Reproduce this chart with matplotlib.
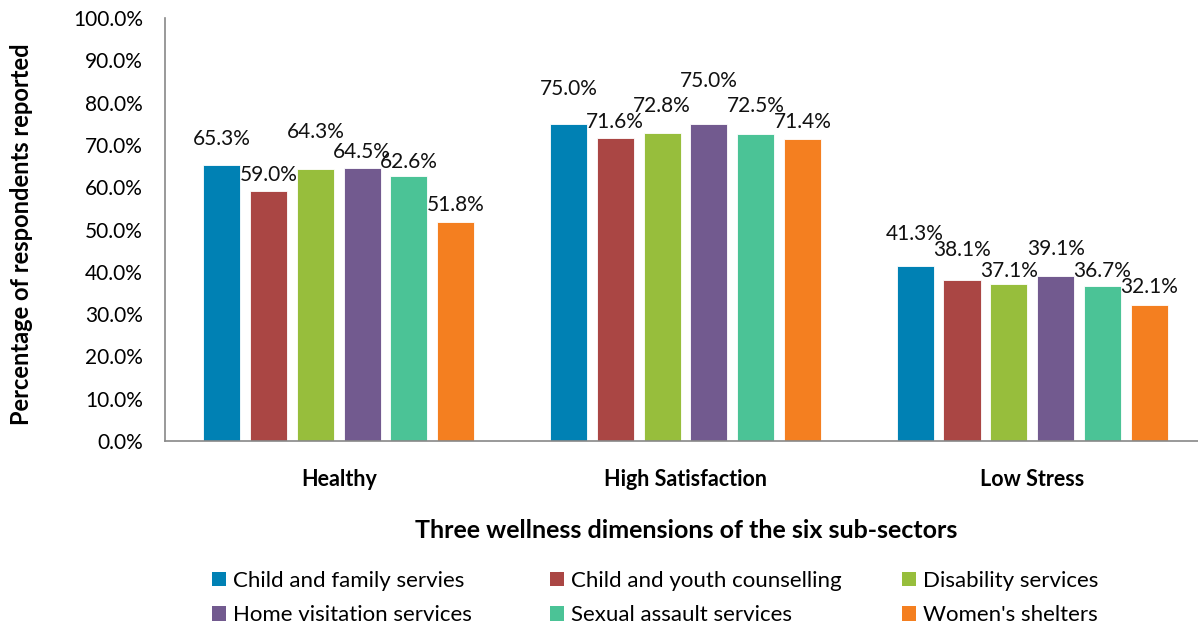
import matplotlib

matplotlib.use("Agg")
import matplotlib.pyplot as plt
import numpy as np
from matplotlib.patches import Patch

plt.rcParams["font.family"] = ["Lato", "DejaVu Sans"]

CATEGORIES = ["Healthy", "High Satisfaction", "Low Stress"]
SERIES = ["Child and family servies", "Child and youth counselling",
          "Disability services", "Home visitation services",
          "Sexual assault services", "Women's shelters"]
CHILD_FAMILY = [65.3, 75.0, 41.3]
CHILD_YOUTH = [59.0, 71.6, 38.1]
DISABILITY = [64.3, 72.8, 37.1]
HOME_VISIT = [64.5, 75.0, 39.1]
SEXUAL_ASSAULT = [62.6, 72.5, 36.7]
SHELTERS = [51.8, 71.4, 32.1]
VALUES = [CHILD_FAMILY, CHILD_YOUTH, DISABILITY, HOME_VISIT, SEXUAL_ASSAULT, SHELTERS]

COLORS = ["#0081B4", "#AA4644", "#97BE3C", "#725A8F", "#4BC396", "#F47F20"]
# label lift above each bar top, in pixels (series x category), mimics Excel's staggering
LIFT = [[26, 35, 32], [16, 16, 30], [37, 27, 13], [16, 43, 27], [14, 28, 15], [17, 17, 18]]

fig = plt.figure(figsize=(11.98, 6.28), dpi=100)
ax = fig.add_axes([165 / 1198, 1 - 441 / 628, (1198 - 165) / 1198, (441 - 18) / 628])

x = np.arange(len(CATEGORIES))
pitch, width = 0.135, 0.107
px_per_pct = 423 / 100

for i, (vals, col) in enumerate(zip(VALUES, COLORS)):
    xs = x + (i - 2.5) * pitch
    ax.bar(xs, vals, width=width, color=col, edgecolor="white", linewidth=0.6)
    for j, (xx, v) in enumerate(zip(xs, vals)):
        ax.text(xx, v + LIFT[i][j] / px_per_pct, f"{v:.1f}%", ha="center", va="center",
                fontsize=15, color="#111111")

ax.set_xlim(-0.501, 2.478)
ax.set_ylim(0, 100)
ax.set_yticks(np.arange(0, 101, 10))
ax.set_yticklabels([f"{t:.1f}%" for t in np.arange(0, 101, 10)], fontsize=15)
ax.set_xticks(x)
ax.set_xticklabels(CATEGORIES, fontsize=15.5, fontweight="bold")
ax.tick_params(axis="y", length=0, pad=16)
ax.tick_params(axis="x", length=0, pad=20)
for s in ["top", "right"]:
    ax.spines[s].set_visible(False)
for s in ["left", "bottom"]:
    ax.spines[s].set_color("#888888")
    ax.spines[s].set_linewidth(1.2)

ax.set_ylabel("Percentage of respondents reported", fontsize=17, fontweight="bold")
ax.yaxis.set_label_coords(-0.128, 0.49)
fig.text(686 / 1198, 1 - 530 / 628, "Three wellness dimensions of the six sub-sectors",
         ha="center", va="center", fontsize=18, fontweight="bold")

# one legend per column so the column starts match the reference
col_x = [212, 550, 902]
for k, cx in enumerate(col_x):
    idx = [k, k + 3]
    fig.legend([Patch(facecolor=COLORS[i], edgecolor="none") for i in idx],
               [SERIES[i] for i in idx], loc="center left",
               bbox_to_anchor=(cx / 1198, 1 - 598 / 628), frameon=False, fontsize=16,
               handlelength=0.65, handleheight=0.65, handletextpad=0.3,
               labelspacing=0.65, borderpad=0, borderaxespad=0)

fig.savefig("out.png", dpi=100)
